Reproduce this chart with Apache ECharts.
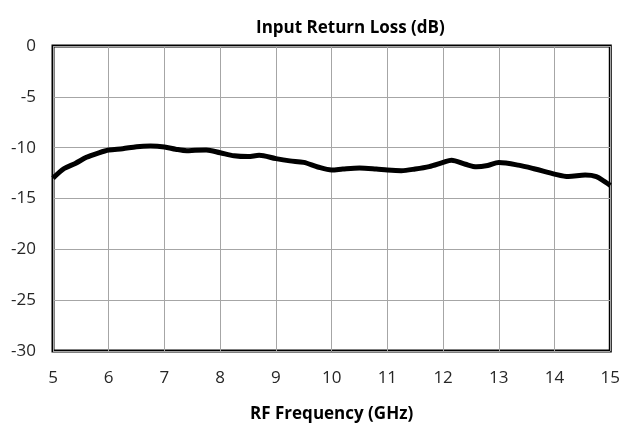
<!DOCTYPE html>
<html>
<head>
<meta charset="utf-8">
<script src="https://cdn.jsdelivr.net/npm/echarts@6/dist/echarts.min.js"></script>
<style>
  html, body { margin: 0; padding: 0; background: #fff; }
  #chart { width: 623px; height: 428px; }
</style>
</head>
<body>
<div id="chart"></div>
<script>
// RF frequency (GHz) and input return loss (dB)
const freqGHz = [5.0, 5.2, 5.4, 5.6, 5.8, 6.0, 6.25, 6.5, 6.75, 7.0, 7.2, 7.4, 7.55, 7.75,
  8.0, 8.25, 8.5, 8.7, 9.0, 9.25, 9.5, 9.75, 10.0, 10.2, 10.5, 10.8, 11.0, 11.25, 11.5,
  11.75, 12.0, 12.15, 12.4, 12.6, 12.8, 13.0, 13.35, 13.65, 14.0, 14.25, 14.55, 14.75, 14.9, 15.0];
const returnLossDb = [-13.0, -12.05, -11.55, -10.95, -10.55, -10.23, -10.1, -9.9, -9.84, -9.93,
  -10.15, -10.3, -10.25, -10.22, -10.5, -10.8, -10.88, -10.75, -11.08, -11.3, -11.45, -11.9,
  -12.2, -12.1, -12.0, -12.1, -12.2, -12.26, -12.1, -11.86, -11.45, -11.24, -11.63, -11.88,
  -11.75, -11.47, -11.72, -12.1, -12.6, -12.84, -12.7, -12.84, -13.35, -13.7];

const chartTitle = 'Input Return Loss (dB)';
const xAxisTitle = 'RF Frequency (GHz)';

const chart = echarts.init(document.getElementById('chart'));
const font = '"Open Sans", "Liberation Sans", sans-serif';

chart.setOption({
  animation: false,
  title: {
    text: chartTitle,
    left: 251,
    top: 15,
    textStyle: { fontFamily: font, fontSize: 17, fontWeight: 'bold', color: '#000' }
  },
  grid: {
    left: 53, right: 12, top: 46, bottom: 72,
    show: true,
    borderColor: '#000',
    borderWidth: 3
  },
  xAxis: {
    type: 'value',
    min: 5, max: 15, interval: 1,
    name: xAxisTitle,
    nameLocation: 'middle',
    nameGap: 55,
    nameTextStyle: { fontFamily: font, fontSize: 17, fontWeight: 'bold', color: '#000' },
    axisLine: { show: false },
    axisTick: { show: false },
    axisLabel: { fontFamily: font, fontSize: 17, color: '#262626', margin: 19 },
    splitLine: { show: true, lineStyle: { color: '#a6a6a6', width: 1 } }
  },
  yAxis: {
    type: 'value',
    min: -30, max: 0, interval: 5,
    axisLine: { show: false },
    axisTick: { show: false },
    axisLabel: { fontFamily: font, fontSize: 17, color: '#262626', margin: 17 },
    splitLine: { show: true, lineStyle: { color: '#a6a6a6', width: 1 } }
  },
  series: [{
    type: 'line',
    data: freqGHz.map((f, i) => [f, returnLossDb[i]]),
    smooth: 0.3,
    symbol: 'none',
    lineStyle: { color: '#000', width: 5 }
  }]
});

window.addEventListener('resize', () => {
  chart.resize();
});
</script>
</body>
</html>
